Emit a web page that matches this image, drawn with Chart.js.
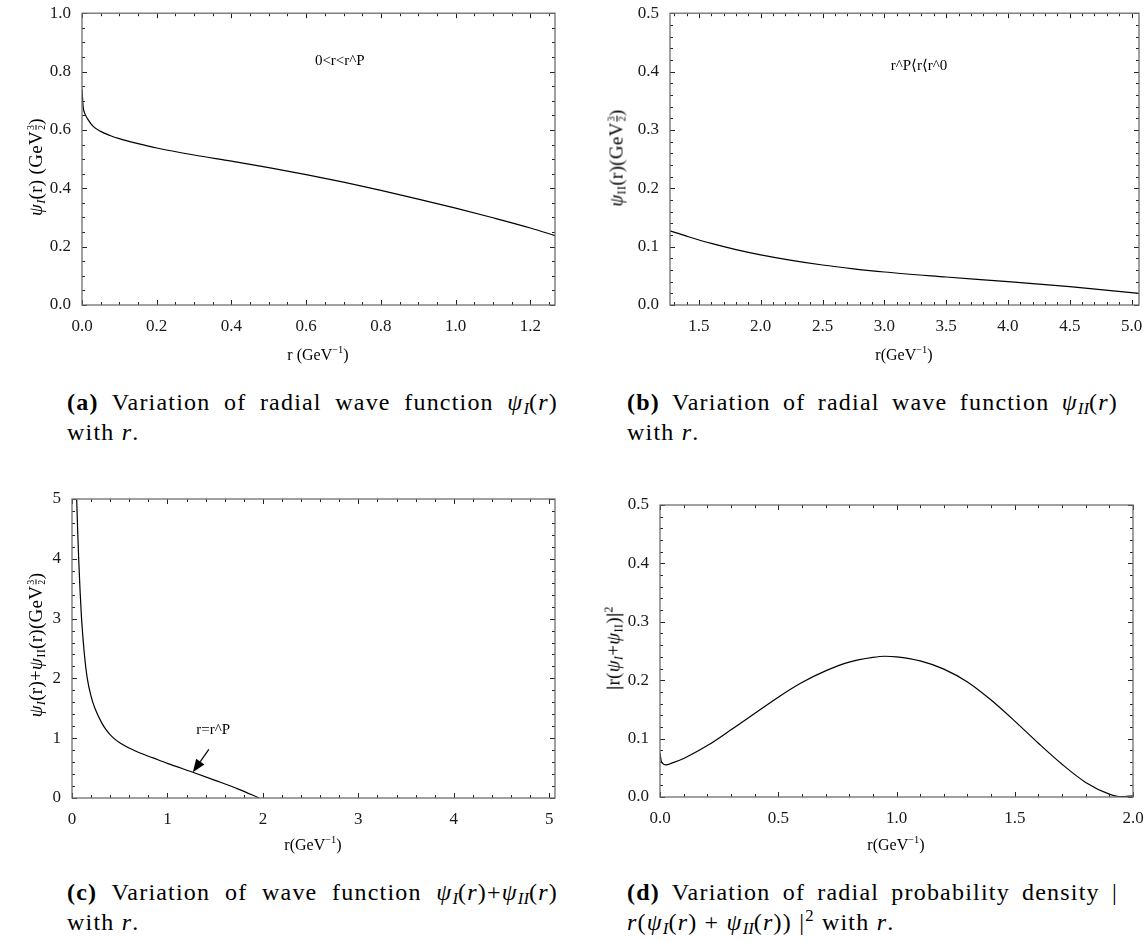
<!DOCTYPE html>
<html><head><meta charset="utf-8">
<script src="https://cdn.jsdelivr.net/npm/chart.js@4.4.0/dist/chart.umd.min.js"></script>
<style>
body{margin:0;background:#fff;width:1148px;height:941px;position:relative;overflow:hidden;font-family:"Liberation Serif",serif;color:#000}
canvas.p{position:absolute}
.yt{position:absolute;transform:translate(-50%,-50%) rotate(-90deg);white-space:nowrap;font-size:19px;line-height:19px;letter-spacing:0.3px}
.xt{position:absolute;transform:translate(-50%,-50%);white-space:nowrap;font-size:16px}
.cap{position:absolute;font-size:24px;line-height:30px;width:491px;letter-spacing:1.2px}
.l1{text-align:justify;text-align-last:justify}
.fr{display:inline-flex;flex-direction:column;font-size:10px;line-height:10px;vertical-align:8px;margin-left:1px;text-align:center}
.fr span:last-child{border-top:1px solid #000}
sub{font-size:65%;vertical-align:-3px;line-height:0}
sup{font-size:65%;vertical-align:7px;line-height:0}
.cap sub{font-size:70%;vertical-align:-4px;letter-spacing:0}
.cap sup{font-size:70%;vertical-align:9px}
</style></head><body>
<script>
// ---- data ----
const rA   = [0, 0.003, 0.008, 0.015, 0.03, 0.05, 0.075, 0.1, 0.15, 0.2, 0.3, 0.4, 0.5, 0.6, 0.7, 0.8, 0.9, 1.0, 1.1, 1.2, 1.266];
const psiA = [0.74, 0.68, 0.655, 0.638, 0.612, 0.595, 0.581, 0.570, 0.553, 0.538, 0.514, 0.493, 0.471, 0.447, 0.421, 0.393, 0.363, 0.332, 0.299, 0.264, 0.238];

const rB   = [1.266, 1.4, 1.6, 1.8, 2.0, 2.25, 2.5, 2.75, 3.0, 3.5, 4.0, 4.5, 5.06];
const psiB = [0.127, 0.118, 0.1055, 0.095, 0.086, 0.0765, 0.0685, 0.062, 0.0565, 0.048, 0.040, 0.0315, 0.020];

const rC   = [0.049, 0.06, 0.07, 0.085, 0.1, 0.13, 0.16, 0.2, 0.24, 0.31, 0.36, 0.43, 0.5, 0.6, 0.7, 0.85, 1.0, 1.266, 1.5, 1.75, 1.96];
const psiC = [5.0, 4.45, 4.0, 3.45, 3.0, 2.4, 2.0, 1.7, 1.5, 1.26, 1.135, 1.01, 0.925, 0.835, 0.76, 0.67, 0.58, 0.43, 0.295, 0.145, 0.0];

const rD    = [0, 0.005, 0.01, 0.025, 0.05, 0.1, 0.2, 0.3, 0.4, 0.5, 0.6, 0.7, 0.8, 0.9, 0.95, 1.0, 1.1, 1.2, 1.3, 1.4, 1.5, 1.6, 1.7, 1.8, 1.9, 1.95, 2.0];
const densD = [0.075, 0.062, 0.058, 0.055, 0.058, 0.066, 0.088, 0.115, 0.143, 0.171, 0.196, 0.216, 0.231, 0.239, 0.241, 0.240, 0.233, 0.219, 0.197, 0.166, 0.130, 0.092, 0.056, 0.025, 0.005, 0.0005, 0.002];

const xTicksA = [0, 0.2, 0.4, 0.6, 0.8, 1.0, 1.2];
const yTicksA = [0, 0.2, 0.4, 0.6, 0.8, 1.0];
const xTicksB = [1.5, 2.0, 2.5, 3.0, 3.5, 4.0, 4.5, 5.0];
const yTicksB = [0, 0.1, 0.2, 0.3, 0.4, 0.5];
const xTicksC = [0, 1, 2, 3, 4, 5];
const yTicksC = [0, 1, 2, 3, 4, 5];
const xTicksD = [0, 0.5, 1.0, 1.5, 2.0];
const yTicksD = [0, 0.1, 0.2, 0.3, 0.4, 0.5];

const labelA = "0<r<r^P";
const labelB = "r^P\u27E8r\u27E8r^0";
const labelC = "r=r^P";

// ---- panels ----
const panels = [
  {box:[0,0,580,345], area:{L:82,T:13,R:555,B:305}, xr:[0,1.266], yr:[0,1], xs:rA, ys:psiA,
   xt:xTicksA, yt:yTicksA, xm:0.05, ym:0.05, xd:1, yd:1,
   note:{text:labelA, x:0.69, y:0.835}},
  {box:[580,0,568,345], area:{L:670,T:13,R:1139,B:305}, xr:[1.266,5.06], yr:[0,0.5], xs:rB, ys:psiB,
   xt:xTicksB, yt:yTicksB, xm:0.1, ym:0.02, xd:1, yd:1,
   note:{text:labelB, x:3.28, y:0.41}},
  {box:[0,470,580,368], area:{L:72,T:499,R:555,B:798}, xr:[0,5.06], yr:[0,5], xs:rC, ys:psiC,
   xt:xTicksC, yt:yTicksC, xm:0.2, ym:0.2, xd:0, yd:0,
   note:{text:labelC, x:1.48, y:1.14}, arrow:{x:1.266, y:0.43, dx:16, dy:-23}},
  {box:[580,470,568,368], area:{L:660,T:505,R:1133,B:797}, xr:[0,2.0], yr:[0,0.5], xs:rD, ys:densD,
   xt:xTicksD, yt:yTicksD, xm:0.1, ym:0.02, xd:1, yd:1}
];

function framePlugin(cfg){
  return {id:'frame'+cfg.box[0]+'_'+cfg.box[1], afterDatasetsDraw(chart){
    const {ctx, chartArea:a, scales:{x, y}} = chart;
    ctx.save();
    ctx.strokeStyle = '#222'; ctx.lineWidth = 1;
    const near = (v, arr) => arr.some(t => Math.abs(t - v) < 1e-6);
    const drawX = (v, len) => { const px = Math.round(x.getPixelForValue(v)) + 0.5;
      ctx.beginPath(); ctx.moveTo(px, a.bottom); ctx.lineTo(px, a.bottom - len);
      ctx.moveTo(px, a.top); ctx.lineTo(px, a.top + len); ctx.stroke(); };
    const drawY = (v, len) => { const py = Math.round(y.getPixelForValue(v)) + 0.5;
      ctx.beginPath(); ctx.moveTo(a.left, py); ctx.lineTo(a.left + len, py);
      ctx.moveTo(a.right, py); ctx.lineTo(a.right - len, py); ctx.stroke(); };
    cfg.xt.forEach(v => drawX(v, 5));
    cfg.yt.forEach(v => drawY(v, 5));
    for (let k = Math.ceil(cfg.xr[0]/cfg.xm - 1e-9); k*cfg.xm <= cfg.xr[1] + 1e-9; k++) {
      const v = +(k*cfg.xm).toFixed(6); if (!near(v, cfg.xt)) drawX(v, 3); }
    for (let k = Math.ceil(cfg.yr[0]/cfg.ym - 1e-9); k*cfg.ym <= cfg.yr[1] + 1e-9; k++) {
      const v = +(k*cfg.ym).toFixed(6); if (!near(v, cfg.yt)) drawY(v, 3); }
    ctx.strokeStyle = '#6e6e6e'; ctx.lineWidth = 1.3;
    ctx.strokeRect(a.left, a.top, a.right - a.left, a.bottom - a.top);
    if (cfg.note) {
      ctx.fillStyle = '#000'; ctx.font = '15px "Liberation Serif", "DejaVu Serif", serif';
      ctx.textAlign = 'center'; ctx.textBaseline = 'middle';
      ctx.fillText(cfg.note.text, x.getPixelForValue(cfg.note.x), y.getPixelForValue(cfg.note.y));
    }
    if (cfg.arrow) {
      const tx = x.getPixelForValue(cfg.arrow.x), ty = y.getPixelForValue(cfg.arrow.y);
      const sx = tx + cfg.arrow.dx, sy = ty + cfg.arrow.dy;
      const ang = Math.atan2(ty - sy, tx - sx), hl = 13, hw = 5;
      const bx = tx - hl*Math.cos(ang), by = ty - hl*Math.sin(ang);
      ctx.strokeStyle = '#000'; ctx.lineWidth = 1.2;
      ctx.beginPath(); ctx.moveTo(sx, sy); ctx.lineTo(bx, by); ctx.stroke();
      ctx.fillStyle = '#000'; ctx.beginPath(); ctx.moveTo(tx, ty);
      ctx.lineTo(bx + hw*Math.sin(ang), by - hw*Math.cos(ang));
      ctx.lineTo(bx - hw*Math.sin(ang), by + hw*Math.cos(ang)); ctx.closePath(); ctx.fill();
    }
    ctx.restore();
  }};
}

function makePanel(cfg){
  const [bl, bt, bw, bh] = cfg.box;
  const c = document.createElement('canvas'); c.className = 'p';
  c.width = bw; c.height = bh; c.style.left = bl + 'px'; c.style.top = bt + 'px';
  c.style.width = bw + 'px'; c.style.height = bh + 'px';
  document.body.appendChild(c);
  const tickFont = {family:'"Liberation Serif", serif', size:17};
  new Chart(c, {
    type:'line',
    data:{datasets:[{data:cfg.xs.map((v,i)=>({x:v, y:cfg.ys[i]})), borderColor:'#000', borderWidth:1.2,
      pointRadius:0, fill:false, cubicInterpolationMode:'monotone'}]},
    options:{responsive:false, animation:false, events:[], devicePixelRatio:1,
      layout:{padding:{left:0, top:cfg.area.T - bt, right:(bl + bw) - cfg.area.R, bottom:0}},
      plugins:{legend:{display:false}, tooltip:{enabled:false}},
      scales:{
        x:{type:'linear', min:cfg.xr[0], max:cfg.xr[1], grid:{display:false}, border:{display:false},
           afterBuildTicks:s=>{s.ticks = cfg.xt.map(v=>({value:v}));},
           afterFit:s=>{s.height = (bt + bh) - cfg.area.B;},
           ticks:{font:tickFont, color:'#1a1a1a', padding:3, maxRotation:0, autoSkip:false,
                  callback:v=>Number(v).toFixed(cfg.xd)}},
        y:{type:'linear', min:cfg.yr[0], max:cfg.yr[1], grid:{display:false}, border:{display:false},
           afterBuildTicks:s=>{s.ticks = cfg.yt.map(v=>({value:v}));},
           afterFit:s=>{s.width = cfg.area.L - bl;},
           ticks:{font:tickFont, color:'#1a1a1a', padding:3, autoSkip:false,
                  callback:v=>Number(v).toFixed(cfg.yd)}}
      }},
    plugins:[framePlugin(cfg)]
  });
}
panels.forEach(makePanel);
</script>

<!-- axis titles -->
<div class="yt" style="left:36px;top:167px"><i>ψ</i><sub><i>I</i></sub>(r) (GeV<span class="fr"><span>3</span><span>2</span></span>)</div>
<div class="yt" style="left:617px;top:158px"><i>ψ</i><sub>II</sub>(r)(GeV<span class="fr"><span>3</span><span>2</span></span>)</div>
<div class="yt" style="left:36px;top:645px"><i>ψ</i><sub><i>I</i></sub>(r)+<i>ψ</i><sub>II</sub>(r)(GeV<span class="fr"><span>3</span><span>2</span></span>)</div>
<div class="yt" style="left:613px;top:648px"><b>|</b>r(<i>ψ</i><sub><i>I</i></sub>+<i>ψ</i><sub>II</sub>)<b>|</b><sup>2</sup></div>

<div class="xt" style="left:318px;top:355px">r (GeV<sup>−1</sup>)</div>
<div class="xt" style="left:904px;top:355px">r(GeV<sup>−1</sup>)</div>
<div class="xt" style="left:313px;top:845px">r(GeV<sup>−1</sup>)</div>
<div class="xt" style="left:896px;top:845px">r(GeV<sup>−1</sup>)</div>

<!-- captions -->
<div class="cap" style="left:67px;top:387px"><div class="l1"><b>(a)</b> Variation of radial wave function <i>ψ<sub>I</sub></i>(<i>r</i>)</div><div>with <i>r</i>.</div></div>
<div class="cap" style="left:627px;top:387px"><div class="l1"><b>(b)</b> Variation of radial wave function <i>ψ<sub>II</sub></i>(<i>r</i>)</div><div>with <i>r</i>.</div></div>
<div class="cap" style="left:67px;top:877px"><div class="l1"><b>(c)</b> Variation of wave function <i>ψ<sub>I</sub></i>(<i>r</i>)+<i>ψ<sub>II</sub></i>(<i>r</i>)</div><div>with <i>r</i>.</div></div>
<div class="cap" style="left:627px;top:877px"><div class="l1"><b>(d)</b> Variation of radial probability density |</div><div><i>r</i>(<i>ψ<sub>I</sub></i>(<i>r</i>) + <i>ψ<sub>II</sub></i>(<i>r</i>)) |<sup>2</sup> with <i>r</i>.</div></div>
</body></html>
